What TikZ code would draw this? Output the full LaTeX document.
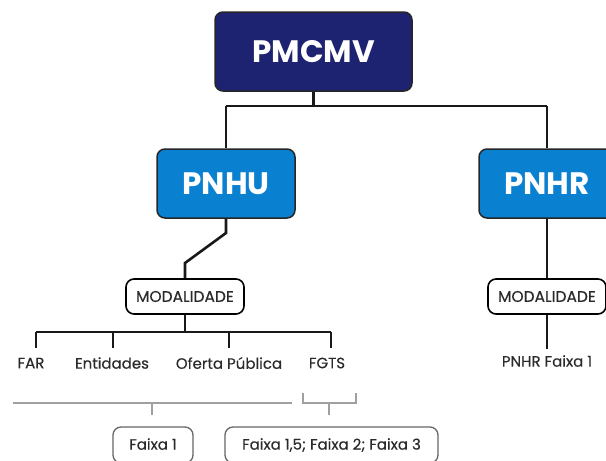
\documentclass[tikz,border=0pt]{standalone}
\usepackage{fontspec}
\setmainfont{Poppins}
\newfontfamily\lblfont[FakeBold=0.35]{Poppins}
\definecolor{navy}{HTML}{1E2371}
\definecolor{bblue}{HTML}{0A80D0}
\definecolor{txt}{HTML}{2A2A2A}
\definecolor{gline}{HTML}{A0A0A0}
\definecolor{gbox}{HTML}{666666}
\begin{document}
\begin{tikzpicture}[x=1pt,y=-1pt,
  bigbox/.style={draw=black!85, line width=1.5pt, rounded corners=8pt, text=white,
    font=\fontsize{31}{31}\selectfont\bfseries, inner sep=0pt},
  modbox/.style={draw=black, fill=white, line width=1.6pt, rounded corners=8pt,
    minimum width=118pt, minimum height=35pt, inner sep=0pt,
    font=\lblfont\fontsize{15.5}{15.5}\selectfont, text=txt},
  lbl/.style={inner sep=0pt, font=\lblfont\fontsize{15}{15}\selectfont, text=txt},
  fbox/.style={draw=gbox, line width=1.3pt, rounded corners=8pt, inner sep=0pt,
    minimum height=36pt, font=\lblfont\fontsize{15}{15}\selectfont, text=txt},
  conn/.style={draw=black!90, line width=2.6pt},
  gconn/.style={draw=gline, line width=1.8pt}]
\useasboundingbox (0,0) rectangle (606,461);
\clip (0,0) rectangle (606,461);
% main boxes
\node[bigbox, fill=navy, minimum width=197pt, minimum height=79pt] (pmcmv) at (313.5,51.5) {PMCMV};
\node[bigbox, fill=bblue, minimum width=138pt, minimum height=69pt] (pnhu) at (226,183.5) {PNHU};
\node[bigbox, fill=bblue, minimum width=140pt, minimum height=69pt] (pnhr) at (549,183.5) {};
\node[inner sep=0pt, text=white, font=\fontsize{31}{31}\selectfont\bfseries] (pnhrt) at (547,183.5) {PNHR};
% modalidade boxes
\node[modbox] (modl) at (185,296.5) {MODALIDADE};
\node[modbox] (modr) at (547,296.5) {MODALIDADE};
% labels
\node[lbl] (far) at (31,363) {FAR};
\node[lbl] (ent) at (112,363) {Entidades};
\node[lbl] (ofp) at (229,363) {Oferta Pública};
\node[lbl] (fgts) at (327,363) {FGTS};
\node[lbl] (pnhrf) at (547,361) {PNHR Faixa 1};
% coordinates
\coordinate (jt) at (313.5,106);
\coordinate (jl) at (226,106);
\coordinate (jr) at (547,106);
\coordinate (d1) at (226,233);
\coordinate (d2) at (185,263);
\coordinate (hb) at (185,332);
\coordinate (hl) at (36,332);
\coordinate (hr) at (331,332);
\coordinate (mr) at (547,349);
% connectors
\draw[conn] (pmcmv.south) -- (jt);
\draw[conn] (jl) -- (jr);
\draw[conn] (jl) -- (pnhu.north);
\draw[conn] (jr) -- (pnhr.north -| jr);
\draw[conn] (pnhu.south) -- (d1) -- (d2) -- (modl.north);
\draw[conn] (modl.south) -- (hb);
\draw[conn] (hl) -- (hr);
\draw[conn] (hl) -- (36,348);
\draw[conn] (113,332) -- (113,348);
\draw[conn] (229,332) -- (229,348);
\draw[conn] (hr) -- (331,348);
\draw[conn] (pnhr.south -| jr) -- (modr.north);
\draw[conn] (modr.south) -- (mr);
% bottom boxes
\node[fbox, minimum width=80pt] (f1) at (153,445) {\raisebox{2pt}{Faixa 1}};
\node[fbox, minimum width=213pt] (f2) at (331.5,445) {\raisebox{2pt}{Faixa 1,5; Faixa 2; Faixa 3}};
% gray brackets
\coordinate (g1) at (13,403);
\coordinate (g2) at (292,403);
\coordinate (g1t) at (152,403);
\draw[gconn] (g1) -- (g2);
\draw[gconn] (g1t) -- (152,415);
\draw[gconn] (303,393) -- (303,403) -- (356,403) -- (356,393);
\draw[gconn] (329,403) -- (329,415);
\end{tikzpicture}
\end{document}
